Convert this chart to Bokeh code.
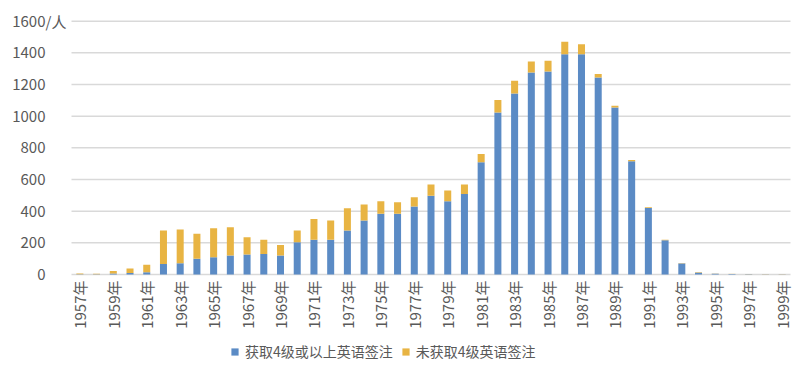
import math
from bokeh.plotting import figure
from bokeh.models import Range1d, Legend, LegendItem
from bokeh.core.properties import value
from bokeh.embed import file_html
from bokeh.resources import INLINE

years = list(range(1957, 2000))
with_cert = [2, 1, 6, 10, 15, 67, 71, 99, 109, 120, 126, 130, 120, 204, 219, 219, 278, 341, 383, 383,
             429, 498, 463, 509, 709, 1024, 1144, 1276, 1283, 1392, 1392, 1245, 1055, 715, 420, 216, 70,
             12, 5, 3, 2, 1, 1]
totals = [6, 4, 22, 38, 62, 278, 284, 257, 292, 298, 235, 219, 187, 278, 351, 341, 418, 442, 463, 456,
          488, 568, 530, 568, 761, 1102, 1224, 1346, 1350, 1470, 1455, 1266, 1066, 723, 425, 219, 72,
          15, 6, 4, 3, 2, 2]
without_cert = [t - w for t, w in zip(totals, with_cert)]
series_names = ["获取4级或以上英语签注", "未获取4级英语签注"]
y_ticks = [0, 200, 400, 600, 800, 1000, 1200, 1400, 1600]
y_tick_labels = ["0", "200", "400", "600", "800", "1000", "1200", "1400", "1600"]
y_unit = "/人"
x_ticks = list(range(1957, 2000, 2))
x_tick_labels = [f"{y}年" for y in x_ticks]

BLUE = "#5b8bc5"
GOLD = "#e8b443"
TXT = "#595959"
FONT = "Noto Sans CJK SC"

W, H = 800, 372
x_lo, x_hi = years[0] - 0.5, years[-1] + 0.5
px_per_year = 719 / (x_hi - x_lo)
px_per_unit = 253.3 / 1600
base_px = 274  # y of zero line, from top of figure
left_px = 71   # x of plot-area left edge

p = figure(width=W, height=H, output_backend="svg", toolbar_location=None,
           x_range=Range1d(x_lo - left_px / px_per_year, x_hi + (W - left_px - 719) / px_per_year),
           y_range=Range1d(-(H - base_px) / px_per_unit, base_px / px_per_unit),
           min_border=0)
p.outline_line_color = None
p.background_fill_color = "white"
p.xgrid.grid_line_color = None
p.ygrid.grid_line_color = None
p.xaxis.visible = False
p.yaxis.visible = False

# horizontal gridlines over the plot area
p.segment(x0=[x_lo] * len(y_ticks), x1=[x_hi] * len(y_ticks), y0=y_ticks, y1=y_ticks,
          line_color="#d9d9d9", line_width=1.5)

data = dict(x=years, a=with_cert, b=without_cert)
r = p.vbar_stack(["a", "b"], x="x", width=0.42, source=data, color=[BLUE, GOLD], line_color=None)

# y tick labels
lab_x = x_lo - 26 / px_per_year
p.text(x=[lab_x] * len(y_ticks), y=y_ticks, text=y_tick_labels, text_align="right",
       text_baseline="middle", text_color=TXT, text_font=value(FONT), text_font_size="15px")
p.text(x=[lab_x], y=[y_ticks[-1]], text=[y_unit], text_align="left",
       text_baseline="middle", text_color=TXT, text_font=value(FONT), text_font_size="15px")

# x tick labels (rotated)
lab_y = -6 / px_per_unit
p.text(x=x_ticks, y=[lab_y] * len(x_ticks), text=x_tick_labels, angle=math.pi / 2,
       text_align="right", text_baseline="middle", text_color=TXT, text_font=value(FONT),
       text_font_size="15px")

legend = Legend(items=[LegendItem(label=series_names[0], renderers=[r[0]]),
                       LegendItem(label=series_names[1], renderers=[r[1]])],
                orientation="horizontal", location=(230, 11),
                glyph_width=9, glyph_height=9, label_standoff=6, spacing=8, padding=2, margin=0,
                label_text_font=FONT, label_text_font_size="14px", label_text_color=TXT,
                border_line_color=None, background_fill_alpha=0)
p.add_layout(legend, "center")

open("out.html", "w").write(file_html(p, INLINE))
